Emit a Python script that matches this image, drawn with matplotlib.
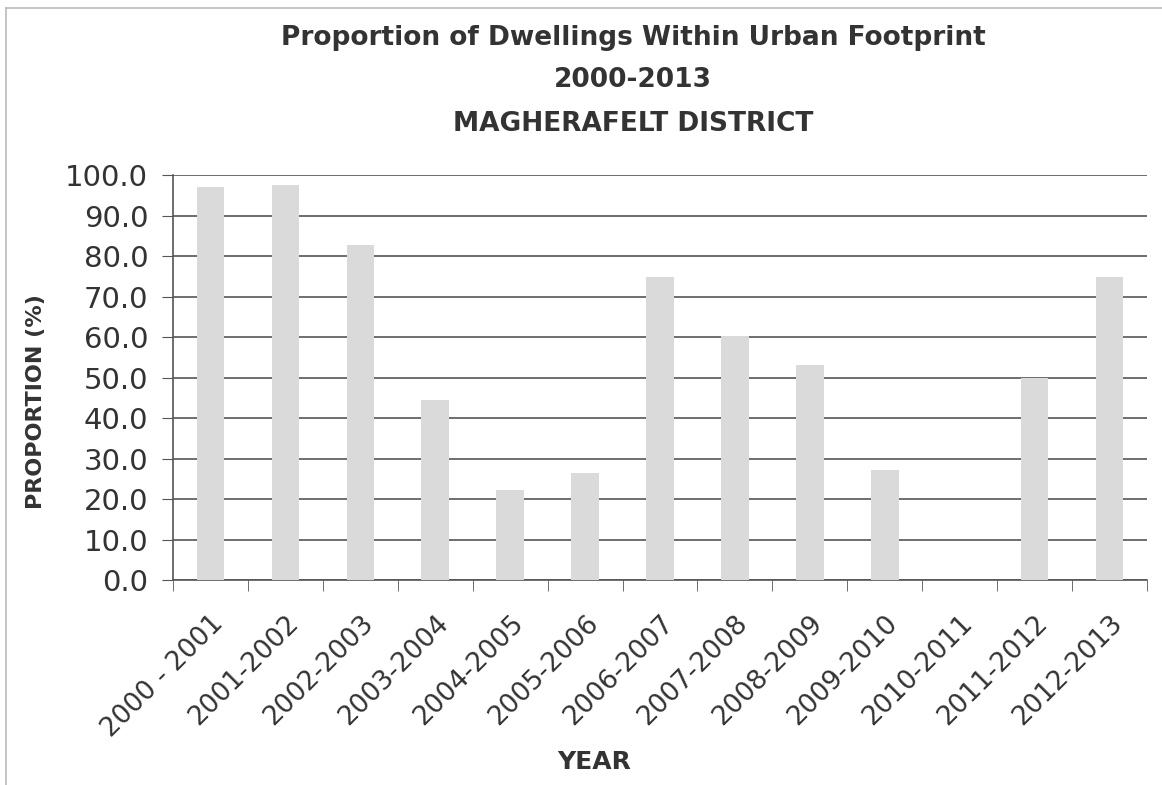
import matplotlib
matplotlib.use('Agg')
import matplotlib.pyplot as plt
from matplotlib.lines import Line2D
import numpy as np

plt.rcParams['font.family'] = ['DejaVu Sans']

# data
years = ['2000 - 2001', '2001-2002', '2002-2003', '2003-2004', '2004-2005',
         '2005-2006', '2006-2007', '2007-2008', '2008-2009', '2009-2010',
         '2010-2011', '2011-2012', '2012-2013']
proportion = [97.0, 97.5, 82.7, 44.4, 22.2, 26.4, 74.8, 60.2, 53.1, 27.2,
              0.0, 49.9, 74.8]
yticks = np.arange(0, 101, 10)

fig = plt.figure(figsize=(11.62, 7.85), dpi=100)
ax = fig.add_axes([0.149, 0.261, 0.838, 0.516])

x = np.arange(len(years))
ax.bar(x, proportion, width=0.37, color='#dadada', zorder=3)

ax.set_xlim(-0.5, len(years) - 0.5)
ax.set_ylim(0, 100)
ax.set_yticks(yticks)
ax.set_yticklabels(['%.1f' % v for v in yticks], fontsize=21, color='#333333')
ax.set_xticks(x)
ax.set_xticklabels(years, rotation=45, ha='right', rotation_mode='anchor',
                   fontsize=19, color='#333333')
ax.set_xticks(np.arange(-0.5, len(years), 1), minor=True)
ax.tick_params(axis='x', which='major', length=0, pad=22)
ax.tick_params(axis='x', which='minor', length=8, color='#555555', direction='out')
ax.tick_params(axis='y', length=8, color='#555555', direction='out', pad=10)

ax.grid(axis='y', color='#555555', linewidth=1.2, zorder=0)
for s in ['top', 'right']:
    ax.spines[s].set_visible(False)
ax.spines['left'].set_color('#555555')
ax.spines['bottom'].set_color('#555555')
ax.spines['left'].set_linewidth(1.2)
ax.spines['bottom'].set_linewidth(1.2)

ax.set_ylabel('PROPORTION (%)', fontsize=16, fontweight='bold', color='#333333')
ax.yaxis.set_label_coords(-0.131, 0.44)
ax.set_xlabel('YEAR', fontsize=18, fontweight='bold', color='#333333')
ax.xaxis.set_label_coords(0.432, -0.42)

fig.text(0.545, 0.952, 'Proportion of Dwellings Within Urban Footprint', ha='center',
         va='center', fontsize=19, fontweight='bold', color='#333333')
fig.text(0.545, 0.898, '2000-2013', ha='center', va='center', fontsize=19,
         fontweight='bold', color='#333333')
fig.text(0.545, 0.842, 'MAGHERAFELT DISTRICT', ha='center', va='center', fontsize=19,
         fontweight='bold', color='#333333')

# faint outer chart border (left and top)
fig.add_artist(Line2D([6 / 1162, 6 / 1162], [0, 1 - 8 / 785], color='#bbbbbb', lw=1.2))
fig.add_artist(Line2D([6 / 1162, 1], [1 - 8 / 785, 1 - 8 / 785], color='#bbbbbb', lw=1.2))

fig.savefig('out.png', dpi=100)
